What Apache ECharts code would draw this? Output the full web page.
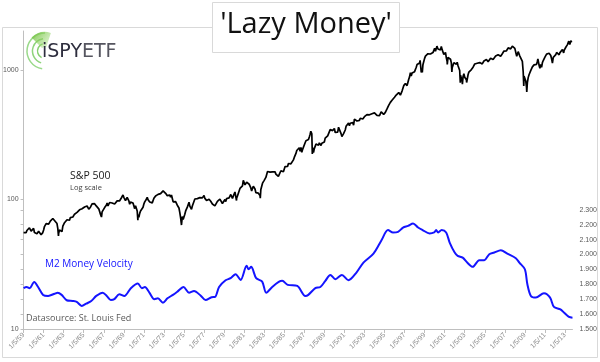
<!DOCTYPE html>
<html>
<head>
<meta charset="utf-8">
<script src="https://cdn.jsdelivr.net/npm/echarts@6/dist/echarts.min.js"></script>
<style>
  html, body { margin: 0; padding: 0; background: #fff; }
  #chart { width: 600px; height: 362px; }
</style>
</head>
<body>
<div id="chart"></div>
<script>
// ---------- DATA ----------
const startYear = 1959;
const xTickLabels = ['1/5/59','1/5/61','1/5/63','1/5/65','1/5/67','1/5/69','1/5/71','1/5/73','1/5/75','1/5/77',
  '1/5/79','1/5/81','1/5/83','1/5/85','1/5/87','1/5/89','1/5/91','1/5/93','1/5/95','1/5/97',
  '1/5/99','1/5/01','1/5/03','1/5/05','1/5/07','1/5/09','1/5/11','1/5/13'];
const leftTickLabels = [10, 100, 1000];
const rightTickLabels = [1.5, 1.6, 1.7, 1.8, 1.9, 2.0, 2.1, 2.2, 2.3];

// S&P 500 month-end levels, Jan 1959 .. Sep 2013
const spxMonthly = [
  55.4,55.4,55.4,57.6,58.7,58.5,60.5,59.6,57.0,57.5,58.3,59.9,
  55.6,56.1,55.3,54.4,55.8,56.9,55.5,56.9,53.5,53.4,55.5,58.1,
  61.8,63.4,65.1,65.3,66.6,64.6,66.8,68.1,66.7,68.6,71.3,71.6,
  68.8,70.0,69.6,65.2,59.6,54.8,58.2,59.1,56.3,56.5,62.3,63.1,
  66.2,64.3,66.6,69.8,70.8,69.4,69.1,72.5,71.7,74.0,73.2,75.0,
  77.0,77.8,79.0,79.5,80.4,81.7,83.2,81.8,84.2,84.9,84.4,84.8,
  87.6,87.4,86.2,89.1,88.4,84.1,85.3,87.2,90.0,92.4,91.6,92.4,
  92.9,91.2,89.2,91.1,86.1,84.7,83.6,77.1,76.6,80.2,80.5,80.3,
  86.6,86.8,90.2,94.0,89.1,90.6,94.8,93.6,96.7,93.9,94.0,96.5,
  92.2,89.4,90.2,97.6,98.7,99.6,97.7,98.9,102.7,103.4,108.4,103.9,
  103.0,98.1,101.5,103.7,103.5,97.7,91.8,95.5,93.1,97.2,93.8,92.1,
  85.0,89.5,89.6,81.5,76.6,72.7,78.1,81.5,84.2,83.3,87.2,92.2,
  95.9,96.8,100.3,104.0,99.6,98.7,95.6,99.0,98.3,94.2,94.0,102.1,
  103.9,106.6,107.2,107.7,109.5,107.1,107.4,111.1,110.6,111.6,116.7,118.1,
  116.0,111.7,111.5,107.0,105.0,104.3,108.2,104.3,108.4,108.3,96.0,97.6,
  96.6,96.2,94.0,90.3,87.3,86.0,79.3,72.2,63.5,73.9,70.0,68.6,
  77.0,81.6,83.4,87.3,91.2,95.2,88.8,86.9,83.9,89.0,91.2,90.2,
  100.9,99.7,102.8,101.6,100.2,104.3,103.4,102.9,105.2,102.9,102.1,107.5,
  102.0,99.8,98.4,98.4,96.1,100.5,98.9,96.8,96.5,92.3,94.8,95.1,
  89.3,87.0,89.2,96.8,97.2,95.5,100.7,103.3,102.5,93.2,94.7,96.1,
  99.9,96.3,101.6,101.8,99.1,102.9,103.8,109.3,109.3,101.8,106.2,107.9,
  114.2,113.7,102.1,106.3,111.2,114.2,121.7,122.4,125.5,127.5,140.5,135.8,
  129.6,131.3,136.0,132.8,132.6,131.2,130.9,122.8,116.2,121.9,126.4,122.6,
  120.4,113.1,112.0,116.4,111.9,109.6,107.1,119.5,120.4,133.7,138.5,140.6,
  145.3,148.1,153.0,164.4,162.4,168.1,162.6,164.4,166.1,163.6,166.4,164.9,
  163.4,157.1,159.2,160.1,150.6,153.2,150.7,166.7,166.1,166.1,163.6,167.2,
  179.6,181.2,180.7,179.8,189.6,191.9,190.9,188.6,182.1,189.8,202.2,211.3,
  211.8,226.9,238.9,235.5,247.4,250.8,236.1,252.9,231.3,244.0,249.2,242.2,
  274.1,284.2,291.7,288.4,290.1,304.0,318.7,329.8,321.8,251.8,230.3,247.1,
  257.1,267.8,258.9,261.3,262.2,273.5,272.0,261.5,271.9,279.0,273.7,277.7,
  297.5,288.9,294.9,309.6,320.5,318.0,346.1,351.5,349.2,340.4,346.0,353.4,
  329.1,331.9,339.9,330.8,361.2,358.0,356.2,322.6,306.1,304.0,322.2,330.2,
  343.9,367.1,375.2,375.3,389.8,371.2,387.8,395.4,387.9,392.5,375.2,417.1,
  408.8,412.7,403.7,415.0,415.4,408.1,424.2,414.0,417.8,418.7,431.4,435.7,
  438.8,443.4,451.7,440.2,450.2,450.5,448.1,463.6,458.9,467.8,461.8,466.5,
  481.6,467.1,445.8,450.9,456.5,444.3,458.3,475.5,462.7,472.4,453.7,459.3,
  470.4,487.4,500.7,514.7,533.4,544.8,562.1,561.9,584.4,581.5,605.4,615.9,
  636.0,640.4,645.5,654.2,669.1,670.6,640.0,652.0,687.3,705.3,757.0,740.7,
  786.2,790.8,757.1,801.3,848.3,885.1,954.3,899.5,947.3,914.6,955.4,970.4,
  980.3,1049.3,1101.8,1111.8,1090.8,1133.8,1120.7,957.3,1017.0,1098.7,1163.6,1229.2,
  1279.6,1238.3,1286.4,1335.2,1301.8,1372.7,1328.7,1320.4,1282.7,1362.9,1388.9,1469.3,
  1394.5,1366.4,1498.6,1452.4,1420.6,1454.6,1430.8,1517.7,1436.5,1429.4,1315.0,1320.3,
  1366.0,1239.9,1160.3,1249.5,1255.8,1224.4,1211.2,1133.6,1040.9,1059.8,1139.5,1148.1,
  1130.2,1106.7,1147.4,1076.9,1067.1,989.8,911.6,916.1,815.3,885.8,936.3,879.8,
  855.7,841.2,848.2,916.9,963.6,974.5,990.3,1008.0,996.0,1050.7,1058.2,1111.9,
  1131.1,1144.9,1126.2,1107.3,1120.7,1140.8,1101.7,1104.2,1114.6,1130.2,1173.8,1211.9,
  1181.3,1203.6,1180.6,1156.9,1191.5,1191.3,1234.2,1220.3,1228.8,1207.0,1249.5,1248.3,
  1280.1,1280.7,1294.9,1310.6,1270.1,1270.2,1276.7,1303.8,1335.9,1377.9,1400.6,1418.3,
  1438.2,1406.8,1420.9,1482.4,1530.6,1503.4,1455.3,1474.0,1526.8,1549.4,1481.1,1468.4,
  1378.6,1330.6,1322.7,1385.6,1400.4,1280.0,1267.4,1282.8,1166.4,968.8,896.2,903.3,
  825.9,735.1,797.9,872.8,919.1,919.3,987.5,1020.6,1057.1,1036.2,1095.6,1115.1,
  1073.9,1104.5,1169.4,1186.7,1089.4,1030.7,1101.6,1049.3,1141.2,1183.3,1180.6,1257.6,
  1286.1,1327.2,1325.8,1363.6,1345.2,1320.6,1292.3,1218.9,1131.4,1253.3,1247.0,1257.6,
  1312.4,1365.7,1408.5,1397.9,1310.3,1362.2,1379.3,1406.6,1440.7,1412.2,1416.2,1426.2,
  1498.1,1514.7,1569.2,1597.6,1630.7,1606.3,1685.7,1633.0,1681.6
];
// intra-month highs / lows [decimal year, level]
const spxExtremeDates = [1959.0,1960.82,1962.48,1966.77,1970.4,1973.03,1974.76,1978.18,1980.24,1982.61,
  1987.65,1987.8,1987.92,1990.79,1994.26,1998.55,1998.77,2000.23,2000.68,2001.26,2001.72,2002.56,
  2002.77,2003.19,2007.77,2008.19,2008.89,2009.19,2010.3,2010.5,2011.76,2012.26,2012.42,2012.87,
  2013.38,2013.48,2013.6,2013.7];
const spxExtremeValues = [55.4,52.3,52.3,73.2,69.3,120.2,62.3,86.9,98.2,102.4,
  336.8,224.8,223.9,295.5,438.9,1186.8,959.4,1527.5,1520.8,1103.3,965.8,797.7,
  776.8,800.7,1565.2,1273.4,752.4,676.5,1217.3,1022.6,1099.2,1419.0,1278.0,1353.3,
  1669.2,1573.1,1709.7,1725.5];

// M2 money velocity (right axis)
const m2Dates = [1959.0,1959.3,1959.6,1960.06,1960.45,1960.95,1961.45,1962.1,1962.4,1962.8,
  1963.3,1963.9,1964.3,1964.8,1965.25,1965.75,1966.25,1966.9,1967.3,1967.7,
  1968.05,1968.55,1969.05,1969.7,1970.4,1970.8,1971.1,1971.55,1972.05,1972.4,
  1972.9,1973.35,1973.9,1974.35,1974.95,1975.5,1976.0,1976.65,1977.15,1977.75,
  1978.1,1978.5,1979.15,1979.65,1980.15,1980.65,1981.25,1981.45,1981.7,1982.2,
  1982.8,1983.2,1983.8,1984.45,1984.8,1985.35,1986.3,1987.1,1987.4,1988.1,
  1988.6,1989.1,1989.6,1990.1,1990.75,1991.4,1992.2,1992.9,1993.9,1994.7,
  1995.35,1995.85,1996.35,1996.85,1997.35,1997.85,1998.35,1998.8,1999.5,1999.95,
  2000.15,2000.35,2000.7,2001.15,2001.5,2002.0,2002.3,2002.8,2003.25,2003.8,
  2004.45,2004.95,2005.45,2005.95,2006.6,2007.25,2008.1,2008.45,2009.0,2009.25,
  2009.6,2010.1,2010.9,2011.2,2011.55,2011.9,2012.55,2012.9,2013.4,2013.75];
const m2Values = [1.774,1.782,1.774,1.816,1.782,1.729,1.722,1.737,1.744,1.729,
  1.693,1.688,1.682,1.655,1.670,1.688,1.722,1.744,1.722,1.695,
  1.700,1.733,1.722,1.774,1.805,1.774,1.782,1.744,1.700,1.706,
  1.677,1.706,1.729,1.751,1.782,1.744,1.755,1.725,1.694,1.713,
  1.715,1.782,1.827,1.841,1.868,1.829,1.924,1.901,1.917,1.841,
  1.818,1.744,1.782,1.816,1.823,1.796,1.789,1.722,1.729,1.774,
  1.782,1.823,1.863,1.834,1.863,1.827,1.879,1.946,2.006,2.096,
  2.164,2.148,2.152,2.181,2.192,2.208,2.181,2.164,2.141,2.148,
  2.164,2.148,2.164,2.148,2.080,2.013,1.991,1.979,1.946,1.917,
  1.962,1.962,2.002,2.013,2.029,2.006,1.975,1.946,1.901,1.800,
  1.722,1.711,1.740,1.733,1.706,1.648,1.632,1.610,1.581,1.576];

// ---------- BUILD ----------
const spxData = spxMonthly.map((v, i) => [(i + 1) / 12, v])
  .concat(spxExtremeDates.map((d, i) => [d - startYear, spxExtremeValues[i]]))
  .sort((a, b) => a[0] - b[0]);
const m2Data = m2Dates.map((d, i) => [d - startYear, m2Values[i]]);
const xTickValues = xTickLabels.map((_, i) => i * 2);

const axisGray = '#bfbfbf';
const labelGray = '#8c8c8c';
const chart = echarts.init(document.getElementById('chart'), null, { renderer: 'canvas' });
chart.setOption({
  animation: false,
  backgroundColor: '#fff',
  grid: { left: 22, right: 26, top: 31, bottom: 33, containLabel: false },
  xAxis: {
    type: 'value', min: 0, max: 54.75, interval: 2,
    splitLine: { show: false },
    axisLine: { show: true, lineStyle: { color: axisGray, width: 1 } },
    axisTick: { show: true, length: 4, lineStyle: { color: axisGray }, customValues: xTickValues },
    axisLabel: {
      customValues: xTickValues, rotate: 45, fontSize: 7, color: labelGray, margin: 5,
      fontFamily: 'Liberation Sans',
      formatter: v => xTickLabels[Math.round(v / 2)]
    }
  },
  yAxis: [
    {
      type: 'log', logBase: 10, min: 10, max: 2000, position: 'left',
      splitLine: { show: false },
      axisLine: { show: true, lineStyle: { color: axisGray } },
      axisTick: { show: true, length: 3, lineStyle: { color: axisGray }, customValues: leftTickLabels },
      axisLabel: { customValues: leftTickLabels, fontSize: 7, color: '#595959', margin: 5,
        fontFamily: 'Liberation Sans', formatter: v => String(Math.round(v)) }
    },
    {
      type: 'value', min: 1.5, max: 3.5, position: 'right',
      splitLine: { show: false },
      axisLine: { show: false },
      axisTick: { show: false },
      axisLabel: { customValues: rightTickLabels, fontSize: 7, color: '#595959', margin: 7,
        fontFamily: 'Liberation Sans', formatter: v => v.toFixed(3) }
    },
    {
      type: 'value', min: 1.5, max: 3.5, position: 'left',
      splitLine: { show: false },
      axisLine: { show: false },
      axisTick: { show: true, length: 3, lineStyle: { color: axisGray }, customValues: rightTickLabels.slice(1) },
      axisLabel: { show: false }
    }
  ],
  series: [
    {
      name: 'S&P 500', type: 'line', xAxisIndex: 0, yAxisIndex: 0, data: spxData,
      showSymbol: false, symbol: 'none', lineStyle: { color: '#000', width: 1.7 }, z: 3
    },
    {
      name: 'M2 Money Velocity', type: 'line', xAxisIndex: 0, yAxisIndex: 1, data: m2Data,
      showSymbol: false, symbol: 'none', smooth: 0.3, lineStyle: { color: '#1414ff', width: 2 }, z: 4
    }
  ],
  graphic: [
    { type: 'rect', z: 0, shape: { x: 2.5, y: 27.5, width: 595, height: 330 },
      style: { fill: 'none', stroke: '#d9d9d9', lineWidth: 1 } },
    { type: 'rect', z: 10, shape: { x: 212.5, y: 2.5, width: 187, height: 50 },
      style: { fill: '#fff', stroke: '#d9d9d9', lineWidth: 1 } },
    { type: 'text', z: 11, x: 306, y: 25,
      style: { text: "'Lazy Money'", fontFamily: 'Open Sans', fontSize: 29, fill: '#111',
        align: 'center', verticalAlign: 'middle' } },
    // logo arcs
    { type: 'arc', z: 5, shape: { cx: 45, cy: 51, r: 18, startAngle: Math.PI * 0.55, endAngle: Math.PI * 1.5, clockwise: true },
      style: { stroke: '#9ad98a', lineWidth: 1.5, fill: 'none' } },
    { type: 'arc', z: 5, shape: { cx: 45, cy: 51, r: 12.5, startAngle: Math.PI * 0.6, endAngle: Math.PI * 1.45, clockwise: true },
      style: { stroke: '#8fd47c', lineWidth: 1.5, fill: 'none' } },
    { type: 'arc', z: 5, shape: { cx: 45, cy: 51, r: 7.5, startAngle: Math.PI * 0.65, endAngle: Math.PI * 1.4, clockwise: true },
      style: { stroke: '#86cf70', lineWidth: 1.5, fill: 'none' } },
    { type: 'sector', z: 5, shape: { cx: 45, cy: 51, r0: 4, r: 19, startAngle: Math.PI * 1.25, endAngle: Math.PI * 1.6, clockwise: true },
      style: { fill: new echarts.graphic.LinearGradient(0, 0, 1, 1, [
        { offset: 0, color: 'rgba(110,190,60,0.9)' }, { offset: 1, color: 'rgba(170,225,130,0.3)' }]) } },
    { type: 'text', z: 6, x: 42, y: 52,
      style: { text: '{a|iSPY}{b|ETF}', verticalAlign: 'middle',
        rich: {
          a: { fontFamily: 'DejaVu Sans', fontSize: 19, fill: '#2e2e3e', color: '#2e2e3e' },
          b: { fontFamily: 'DejaVu Sans', fontSize: 19, fill: '#55555f', color: '#55555f' }
        } } },
    // annotations
    { type: 'text', z: 6, x: 70, y: 176,
      style: { text: 'S&P 500', fontFamily: 'Open Sans', fontSize: 10.5, fill: '#1a1a1a', verticalAlign: 'middle' } },
    { type: 'text', z: 6, x: 70, y: 188,
      style: { text: 'Log scale', fontFamily: 'Open Sans', fontSize: 7.5, fill: '#404040', verticalAlign: 'middle' } },
    { type: 'text', z: 6, x: 45, y: 264,
      style: { text: 'M2 Money Velocity', fontFamily: 'Open Sans', fontSize: 10, fill: '#1414ff', verticalAlign: 'middle' } },
    { type: 'text', z: 6, x: 26, y: 318,
      style: { text: 'Datasource: St. Louis Fed', fontFamily: 'Open Sans', fontSize: 9, fill: '#595959', verticalAlign: 'middle' } }
  ]
});
</script>
</body>
</html>
